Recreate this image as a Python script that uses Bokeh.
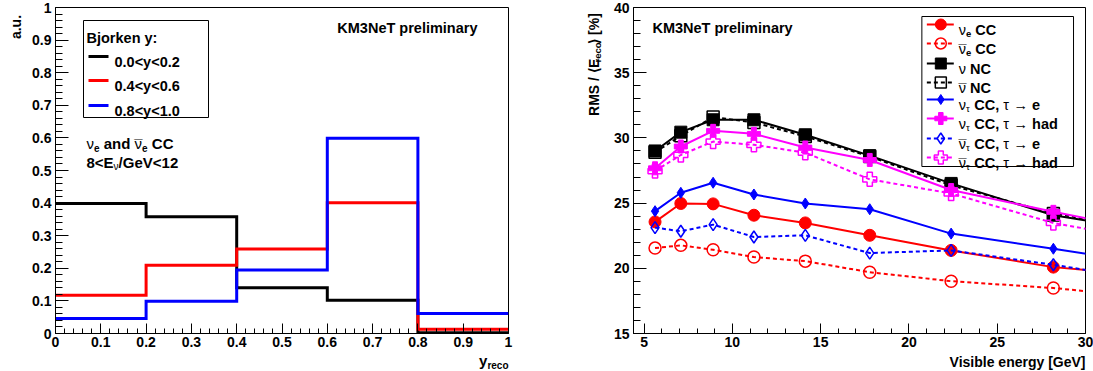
import math
from bokeh.plotting import figure
from bokeh.models import Label, BoxAnnotation, FixedTicker, Range1d
from bokeh.layouts import row, column
from bokeh.embed import file_html
from bokeh.resources import INLINE

FONT = "Liberation Sans"

# ---------------- left panel data ----------------
bin_edges = [0.0, 0.2, 0.4, 0.6, 0.8, 1.0]
hist_y00_02 = [0.399, 0.358, 0.140, 0.102, 0.002]
hist_y04_06 = [0.117, 0.209, 0.259, 0.401, 0.013]
hist_y08_10 = [0.046, 0.099, 0.195, 0.599, 0.061]
hist_labels = ["0.0<y<0.2", "0.4<y<0.6", "0.8<y<1.0"]
hist_colors = ["#000000", "#ff0000", "#0000ff"]

left_ticks = [0.0, 0.1, 0.2, 0.3, 0.4, 0.5, 0.6, 0.7, 0.8, 0.9, 1.0]
left_tick_labels = ["0", "0.1", "0.2", "0.3", "0.4", "0.5", "0.6", "0.7", "0.8", "0.9", "1"]

# ---------------- right panel data ----------------
e_visible = [5.62, 7.08, 8.91, 11.22, 14.13, 17.78, 22.39, 28.18, 35.48]
rms_nue_cc = [23.56, 24.97, 24.94, 24.07, 23.48, 22.53, 21.37, 20.09, 19.2]
rms_nuebar_cc = [21.55, 21.76, 21.42, 20.86, 20.55, 19.70, 19.01, 18.49, 17.5]
rms_nu_nc = [29.00, 30.44, 31.39, 31.39, 30.24, 28.64, 26.51, 24.07, 22.5]
rms_nubar_nc = [28.90, 30.16, 31.60, 31.19, 30.11, 28.57, 26.36, 24.20, 22.6]
rms_nutau_e = [24.38, 25.79, 26.56, 25.66, 24.97, 24.53, 22.66, 21.50, 20.0]
rms_nutau_had = [27.67, 29.34, 30.54, 30.31, 29.26, 28.31, 26.00, 24.33, 22.4]
rms_nutaubar_e = [23.12, 22.84, 23.35, 22.40, 22.53, 21.17, 21.37, 20.27, 18.7]
rms_nutaubar_had = [27.46, 28.69, 29.72, 29.47, 28.87, 26.82, 25.74, 23.48, 21.7]

right_x_ticks = [5, 10, 15, 20, 25, 30]
right_y_ticks = [15, 20, 25, 30, 35, 40]

# ---------------- text width tables (1/1000 em) ----------------
BOLD = {' ': 278, '%': 889, ',': 278, '.': 278, '/': 278, ':': 333, '<': 584, '>': 584,
        '[': 333, ']': 333, '⟨': 400, '⟩': 400,
        'A': 722, 'B': 722, 'C': 722, 'E': 667, 'G': 778, 'K': 722, 'M': 833, 'N': 722,
        'R': 722, 'S': 667, 'T': 611, 'V': 667,
        'a': 556, 'b': 611, 'c': 556, 'd': 611, 'e': 556, 'g': 611, 'h': 611, 'i': 278,
        'j': 278, 'k': 556, 'l': 278, 'm': 889, 'n': 611, 'o': 611, 'p': 611, 'r': 389,
        's': 556, 't': 333, 'u': 611, 'v': 556, 'y': 556}
for d in "0123456789":
    BOLD[d] = 556
REG = {'ν': 500, 'τ': 440, '→': 1000, '¯': 552, ' ': 278}


def tw(text, size, bold):
    tbl = BOLD if bold else REG
    if text == "ν̄":
        return REG['ν'] * size / 1000
    return sum(tbl.get(ch, BOLD.get(ch, 556)) for ch in text) * size / 1000


def to_data(m, px, py):
    lx = px - m["ox"]
    ly = py - m["oy"]
    x = m["x0"] + (lx - m["fl"]) / m["fw"] * (m["x1"] - m["x0"])
    y = m["y1"] - (ly - m["ft"]) / m["fh"] * (m["y1"] - m["y0"])
    return x, y


def put(p, m, px, py, text, size, bold=True, align="left", baseline="alphabetic", angle=0.0):
    x, y = to_data(m, px, py)
    p.add_layout(Label(x=x, y=y, text=text, text_font=FONT, text_font_size=f"{size}px",
                       text_font_style="bold" if bold else "normal", text_color="black",
                       text_align=align, text_baseline=baseline, angle=angle))


def split_space(t, s, b):
    lead = len(t) - len(t.lstrip(' '))
    return tw(' ' * lead, s, b), t.strip(' ')


def rich(p, m, px, py, parts, align="left"):
    total = sum(tw(t, s, b) for t, s, b, dy in parts)
    pos = px - total if align == "right" else px
    for t, s, b, dy in parts:
        w = tw(t, s, b)
        if t == "ν̄":
            put(p, m, pos, py + dy, "ν", s, False)
            put(p, m, pos + w / 2, py + dy + 1, "¯", s, False, align="center")
        else:
            off, core = split_space(t, s, b)
            if core:
                put(p, m, pos + off, py + dy, core, s, b)
        pos += w


def rich_up(p, m, bx, top_y, parts):
    total = sum(tw(t, s, b) for t, s, b, dy in parts)
    pos = top_y + total
    for t, s, b, dy in parts:
        off, core = split_space(t, s, b)
        if core:
            put(p, m, bx + dy, pos - off, core, s, b, angle=math.pi / 2)
        pos -= tw(t, s, b)


def style_axes(p, xticks, xminor, yticks, yminor, xover=None, yover=None):
    p.xaxis.ticker = FixedTicker(ticks=xticks, minor_ticks=xminor)
    p.yaxis.ticker = FixedTicker(ticks=yticks, minor_ticks=yminor)
    if xover:
        p.xaxis.major_label_overrides = xover
    if yover:
        p.yaxis.major_label_overrides = yover
    for ax in p.xaxis:
        ax.major_tick_in, ax.major_tick_out = 10, 0
        ax.minor_tick_in, ax.minor_tick_out = 5, 0
        ax.major_label_standoff = 3
    for ax in p.yaxis:
        ax.major_tick_in, ax.major_tick_out = 13, 0
        ax.minor_tick_in, ax.minor_tick_out = 7, 0
        ax.major_label_standoff = 4
    for ax in list(p.xaxis) + list(p.yaxis):
        ax.axis_line_color = "black"
        ax.major_tick_line_color = "black"
        ax.minor_tick_line_color = "black"
        ax.major_label_text_font = FONT
        ax.major_label_text_font_style = "bold"
        ax.major_label_text_font_size = "14px"
        ax.major_label_text_color = "black"
    p.xgrid.visible = False
    p.ygrid.visible = False
    p.outline_line_color = "black"
    p.outline_line_width = 1
    p.background_fill_color = "white"
    p.border_fill_color = "white"


def strip(w, h, transparent=False):
    s = figure(width=w, height=h, title=None, x_range=Range1d(0, w), y_range=Range1d(h, 0),
               output_backend="svg", toolbar_location=None, x_axis_type=None, y_axis_type=None,
               min_border=0, min_border_left=0, min_border_right=0, min_border_top=0,
               min_border_bottom=0)
    s.outline_line_color = None
    s.background_fill_color = "white"
    s.border_fill_color = "white"
    if transparent:
        s.background_fill_alpha = 0
        s.border_fill_alpha = 0
    return s


H1 = 352          # height of main row
OVL = 8           # overlap of bottom title strip with main row
HB = 371 - H1 + OVL
XA = 24           # left strip width
X1 = 560          # end of left panel figure
XB = 610          # start of right panel figure

# ================= LEFT PANEL =================
p1 = figure(width=X1 - XA, height=H1, title=None, x_range=Range1d(0, 1), y_range=Range1d(0, 1),
            output_backend="svg", toolbar_location=None,
            min_border_left=55 - XA, min_border_right=X1 - 508, min_border_top=7,
            min_border_bottom=H1 - 333)
m1 = dict(ox=XA, oy=0, fl=55 - XA, ft=7, fw=453, fh=326, x0=0.0, x1=1.0, y0=0.0, y1=1.0)

minor_left = [round(i * 0.02, 2) for i in range(51) if i % 5 != 0]
over = dict(zip(left_ticks, left_tick_labels))
style_axes(p1, left_ticks, minor_left, left_ticks, minor_left, over, over)

for vals, col in zip([hist_y00_02, hist_y04_06, hist_y08_10], hist_colors):
    p1.step(x=bin_edges, y=vals + [vals[-1]], mode="after", line_color=col,
            line_width=3, line_join="miter")

lx0, ly0 = to_data(m1, 83, 20)
lx1, ly1 = to_data(m1, 208, 117)
p1.add_layout(BoxAnnotation(left=lx0, right=lx1, top=ly0, bottom=ly1, fill_alpha=0,
                            line_color="black", line_width=1, line_alpha=1))
put(p1, m1, 86, 37, "Bjorken y:", 14.5, True)
for i, (lab, col) in enumerate(zip(hist_labels, hist_colors)):
    yy = [56, 80, 105][i]
    xa, ya = to_data(m1, 88, yy)
    xb, _ = to_data(m1, 108, yy)
    p1.line(x=[xa, xb], y=[ya, ya], line_color=col, line_width=3)
    put(p1, m1, 114, yy + 5, lab, 14.5, True)

put(p1, m1, 477, 27, "KM3NeT preliminary", 14.5, True, align="right")
rich(p1, m1, 86, 143, [("ν", 15, False, 0), ("e", 10, True, 4), (" and ", 15, True, 0),
                       ("ν̄", 15, False, 0), ("e", 10, True, 4), (" CC", 15, True, 0)])
rich(p1, m1, 86, 162, [("8<E", 15, True, 0), ("ν", 10, False, 4), ("/GeV<12", 15, True, 0)])

# ================= RIGHT PANEL =================
p2 = figure(width=1093 - XB, height=H1, title=None, x_range=Range1d(4.4, 30), y_range=Range1d(15, 40),
            output_backend="svg", toolbar_location=None,
            min_border_left=632 - XB, min_border_right=1093 - 1085, min_border_top=7,
            min_border_bottom=H1 - 333)
m2 = dict(ox=XB, oy=0, fl=632 - XB, ft=7, fw=453, fh=326, x0=4.4, x1=30.0, y0=15.0, y1=40.0)

minor_rx = [v for v in range(5, 31) if v % 5 != 0]
minor_ry = [v for v in range(15, 41) if v % 5 != 0]
style_axes(p2, right_x_ticks, minor_rx, right_y_ticks, minor_ry)

DASH = "4 3"
series = [
    (rms_nue_cc, "#ff0000", "solid", "circle", True, 12,
     [("ν", 14.5, False, 0), ("e", 9.5, True, 4), (" CC", 14.5, True, 0)]),
    (rms_nuebar_cc, "#ff0000", DASH, "circle", False, 12,
     [("ν̄", 14.5, False, 0), ("e", 9.5, True, 4), (" CC", 14.5, True, 0)]),
    (rms_nu_nc, "#000000", "solid", "square", True, 12,
     [("ν", 14.5, False, 0), (" NC", 14.5, True, 0)]),
    (rms_nubar_nc, "#000000", DASH, "square", False, 12,
     [("ν̄", 14.5, False, 0), (" NC", 14.5, True, 0)]),
    (rms_nutau_e, "#0000ff", "solid", "diamond", True, 11,
     [("ν", 14.5, False, 0), ("τ", 9.5, False, 4), (" CC, ", 14.5, True, 0),
      ("τ", 14.5, False, 0), (" → ", 14.5, False, 0), ("e", 14.5, True, 0)]),
    (rms_nutau_had, "#ff00ff", "solid", "plus", True, 13,
     [("ν", 14.5, False, 0), ("τ", 9.5, False, 4), (" CC, ", 14.5, True, 0),
      ("τ", 14.5, False, 0), (" → ", 14.5, False, 0), ("had", 14.5, True, 0)]),
    (rms_nutaubar_e, "#0000ff", DASH, "diamond", False, 12,
     [("ν̄", 14.5, False, 0), ("τ", 9.5, False, 4), (" CC, ", 14.5, True, 0),
      ("τ", 14.5, False, 0), (" → ", 14.5, False, 0), ("e", 14.5, True, 0)]),
    (rms_nutaubar_had, "#ff00ff", DASH, "plus", False, 14,
     [("ν̄", 14.5, False, 0), ("τ", 9.5, False, 4), (" CC, ", 14.5, True, 0),
      ("τ", 14.5, False, 0), (" → ", 14.5, False, 0), ("had", 14.5, True, 0)]),
]


def scatter_kw(col, filled, size):
    return dict(size=size, line_color=col, fill_color=col, fill_alpha=1 if filled else 0,
                line_width=1 if filled else 1.5)


for vals, col, dash, mk, filled, size, parts in series:
    p2.line(x=e_visible, y=vals, line_color=col, line_width=2, line_dash=dash)
    p2.scatter(x=e_visible, y=vals, marker=mk, **scatter_kw(col, filled, size))

bx0, by0 = to_data(m2, 921, 16)
bx1, by1 = to_data(m2, 1073, 166)
p2.add_layout(BoxAnnotation(left=bx0, right=bx1, top=by0, bottom=by1, fill_alpha=0,
                            line_color="black", line_width=1, line_alpha=1))
row_y = [24, 43, 63, 82, 99, 118, 138, 157]
for (vals, col, dash, mk, filled, size, parts), yy in zip(series, row_y):
    xa, ya = to_data(m2, 926, yy)
    xb, _ = to_data(m2, 953, yy)
    xm, _ = to_data(m2, 940, yy)
    p2.line(x=[xa, xb], y=[ya, ya], line_color=col, line_width=2, line_dash=dash)
    p2.scatter(x=[xm], y=[ya], marker=mk, **scatter_kw(col, filled, size - 1))
    rich(p2, m2, 958, yy + 5, parts)

put(p2, m2, 651, 27, "KM3NeT preliminary", 14.5, True)

# ================= axis-title strips =================
sA = strip(XA, H1)
mA = dict(ox=0, oy=0, fl=0, ft=0, fw=XA, fh=H1, x0=0, x1=XA, y0=H1, y1=0)
rich_up(sA, mA, 15, 10, [("a.u.", 14, True, 0)])

sB = strip(XB - X1, H1)
mB = dict(ox=X1, oy=0, fl=0, ft=0, fw=XB - X1, fh=H1, x0=0, x1=XB - X1, y0=H1, y1=0)
rich_up(sB, mB, 593, 8, [("RMS / ⟨E", 14, True, 0), ("reco", 9.5, True, 4), ("⟩ [%]", 14, True, 0)])

sC = strip(1093, HB, transparent=True)
sC.margin = (-OVL, 0, 0, 0)
mC = dict(ox=0, oy=H1 - OVL, fl=0, ft=0, fw=1093, fh=HB, x0=0, x1=1093, y0=HB, y1=0)
rich(sC, mC, 508, 360, [("y", 15, True, 0), ("reco", 10, True, 5)], align="right")
put(sC, mC, 1085, 361, "Visible energy [GeV]", 14, True, align="right")

layout = column(row(sA, p1, sB, p2), sC)
open("out.html", "w").write(file_html(layout, INLINE))
